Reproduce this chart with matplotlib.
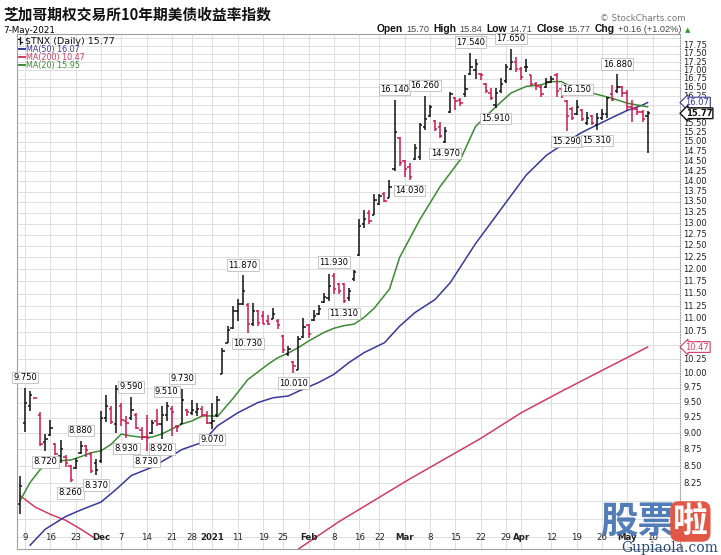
import matplotlib.pyplot as plt
import numpy as np
import pandas as pd
from matplotlib.lines import Line2D

W, H = 721, 555

# trading days on the chart (one empty week is kept at the right)
holidays = ['2020-11-26', '2020-12-25', '2021-01-01', '2021-01-18', '2021-02-15', '2021-04-02']
days = pd.bdate_range('2020-11-06', '2021-05-14')
days = days[~days.isin(pd.to_datetime(holidays))]

# $TNX daily OHLC, 6 Nov 2020 - 7 May 2021
opens = [7.95, 9.17, 9.45, 9.57, 9.30, 8.86, 8.98, 8.83, 8.65, 8.64, 8.50, 8.47, 8.70, 8.80, 8.68, 8.55,
         8.58, 9.25, 9.40, 9.15, 9.45, 9.20, 9.25, 9.30, 9.05, 8.95, 9.00, 9.20, 9.15, 9.30, 9.40, 9.12,
         9.15, 9.38, 9.32, 9.35, 9.40, 9.30, 9.17, 9.30, 9.98, 10.55, 10.82, 11.15, 11.30, 11.28, 10.90,
         11.15, 11.05, 10.95, 11.00, 10.95, 10.68, 10.35, 10.20, 10.06, 10.65, 10.88, 10.98, 11.10, 11.33,
         11.40, 11.85, 11.70, 11.70, 11.40, 11.80, 12.30, 13.00, 13.25, 13.20, 13.45, 13.70, 13.60, 14.30,
         15.10, 14.50, 14.35, 14.55, 14.60, 15.40, 15.70, 15.55, 15.40, 15.00, 15.80, 16.20, 16.15, 16.30,
         16.90, 17.00, 16.90, 16.60, 16.35, 16.00, 16.40, 16.70, 17.05, 17.25, 17.05, 17.10, 16.85, 16.60,
         16.50, 16.50, 16.65, 16.85, 16.45, 16.10, 15.90, 15.75, 15.85, 15.50, 15.70, 15.45, 15.65, 15.75,
         16.30, 16.40, 16.50, 16.35, 15.95, 15.90, 15.80, 15.70]
highs = [8.35, 9.75, 9.69, 9.57, 9.34, 8.99, 9.22, 8.85, 8.90, 8.66, 8.52, 8.62, 8.88, 8.82, 8.71, 8.61,
         9.36, 9.62, 9.44, 9.80, 9.50, 9.28, 9.59, 9.33, 9.10, 9.30, 9.22, 9.40, 9.44, 9.51, 9.44, 9.14,
         9.73, 9.39, 9.55, 9.50, 9.44, 9.36, 9.50, 9.61, 10.45, 10.86, 11.25, 11.38, 11.87, 11.31, 11.31,
         11.18, 11.15, 11.08, 11.22, 10.99, 10.70, 10.49, 10.22, 10.67, 11.02, 10.90, 11.18, 11.28, 11.51,
         11.90, 11.93, 11.72, 11.72, 11.62, 11.99, 13.10, 13.32, 13.32, 13.70, 13.70, 13.74, 14.04, 16.14,
         15.14, 14.54, 14.45, 14.95, 15.50, 16.26, 16.00, 15.59, 15.54, 15.40, 16.38, 16.24, 16.20, 16.86,
         17.54, 17.35, 16.92, 16.62, 16.48, 16.48, 16.77, 17.20, 17.65, 17.40, 17.10, 17.35, 16.86, 16.67,
         16.58, 16.77, 16.82, 16.91, 16.48, 16.14, 15.95, 16.15, 15.88, 15.81, 15.72, 15.77, 15.90, 16.24,
         16.58, 16.88, 16.53, 16.43, 16.14, 15.95, 15.86, 15.84]
lows = [7.81, 9.02, 9.36, 9.57, 8.80, 8.72, 8.96, 8.66, 8.55, 8.49, 8.26, 8.45, 8.68, 8.63, 8.40, 8.37,
        8.55, 9.18, 9.15, 9.00, 9.12, 8.93, 9.22, 9.07, 8.90, 8.73, 8.99, 9.12, 8.92, 9.20, 8.96, 9.02,
        9.15, 9.28, 9.30, 9.28, 9.26, 9.15, 9.07, 9.26, 9.98, 10.55, 10.80, 10.96, 11.28, 10.73, 10.87,
        10.87, 10.90, 10.88, 10.99, 10.80, 10.37, 10.31, 10.01, 10.06, 10.64, 10.64, 10.96, 11.08, 11.31,
        11.35, 11.48, 11.48, 11.31, 11.35, 11.75, 12.28, 12.90, 12.98, 13.20, 13.42, 13.50, 13.60, 14.25,
        14.37, 14.10, 14.03, 14.54, 14.54, 15.32, 15.67, 15.28, 15.10, 14.97, 15.77, 15.86, 15.98, 16.24,
        16.85, 16.76, 16.72, 16.34, 16.15, 15.91, 16.34, 16.62, 17.00, 16.95, 16.72, 16.95, 16.53, 16.43,
        16.24, 16.48, 16.62, 16.24, 16.20, 15.29, 15.59, 15.72, 15.55, 15.45, 15.45, 15.31, 15.59, 15.63,
        16.10, 16.34, 16.24, 15.86, 15.54, 15.72, 15.54, 14.71]
closes = [8.21, 9.50, 9.62, 9.57, 8.84, 8.92, 9.08, 8.68, 8.75, 8.55, 8.30, 8.57, 8.80, 8.74, 8.43, 8.44,
          9.25, 9.45, 9.18, 9.72, 9.22, 9.17, 9.37, 9.08, 8.95, 8.93, 9.17, 9.15, 9.30, 9.45, 9.35, 9.10,
          9.55, 9.35, 9.38, 9.40, 9.30, 9.17, 9.20, 9.55, 10.40, 10.78, 11.15, 11.30, 11.55, 10.90, 11.15,
          10.92, 10.91, 10.90, 11.10, 10.88, 10.42, 10.44, 10.12, 10.62, 10.85, 10.72, 11.05, 11.20, 11.42,
          11.65, 11.60, 11.55, 11.35, 11.55, 11.95, 12.95, 13.10, 13.05, 13.55, 13.65, 13.52, 13.85, 15.25,
          14.45, 14.30, 14.10, 14.85, 15.45, 15.60, 15.95, 15.35, 15.15, 15.30, 16.30, 16.10, 16.05, 16.45,
          17.10, 17.20, 16.85, 16.40, 16.20, 16.35, 16.60, 17.10, 17.25, 17.05, 16.80, 17.10, 16.60, 16.55,
          16.30, 16.65, 16.75, 16.40, 16.30, 15.70, 15.65, 15.95, 15.60, 15.65, 15.50, 15.65, 15.75, 16.20,
          16.15, 16.50, 16.35, 15.95, 15.90, 15.80, 15.61, 15.77]

# moving averages (bar index, value); NaN = line leaves the panel
ma20_idx = [0, 2, 4, 6, 8, 10, 12, 14, 16, 18, 20, 22, 24, 26, 28, 30, 32, 34, 36, 38, 39, 42, 45, 49, 51,
            53, 55, 57, 60, 62, 64, 66, 68, 70, 73, 75, 79, 83, 87, 90, 94, 97, 100, 103, 105, 107, 110,
            113, 117, 120, 122, 124]
ma20_val = [8.00, 8.26, 8.45, 8.55, 8.58, 8.59, 8.64, 8.70, 8.73, 8.83, 8.99, 8.96, 8.94, 8.94, 8.99, 9.07,
            9.15, 9.20, 9.28, 9.28, 9.27, 9.56, 9.89, 10.16, 10.28, 10.36, 10.46, 10.58, 10.74, 10.82,
            10.87, 10.90, 11.03, 11.21, 11.59, 12.25, 13.09, 13.87, 14.54, 15.41, 15.95, 16.34, 16.53,
            16.58, 16.67, 16.67, 16.43, 16.34, 16.19, 16.05, 16.00, 15.95]
ma50_idx = [2, 5, 9, 12, 16, 19, 22, 26, 29, 32, 36, 39, 43, 47, 50, 53, 55, 59, 62, 65, 68, 72, 75, 78,
            82, 85, 90, 97, 100, 104, 108, 111, 114, 118, 120, 123, 124]
ma50_val = [7.40, 7.61, 7.78, 7.87, 7.98, 8.16, 8.36, 8.48, 8.61, 8.75, 8.86, 9.12, 9.33, 9.50, 9.58,
            9.61, 9.69, 9.84, 9.98, 10.19, 10.37, 10.55, 10.86, 11.12, 11.38, 11.72, 12.55, 13.65,
            14.15, 14.65, 15.00, 15.25, 15.45, 15.72, 15.85, 16.00, 16.07]
ma200_idx = [0, 3, 6, 9, 12, 15, 16, 54, 55, 63, 77, 91, 99, 107, 115, 124]
ma200_val = [8.07, 7.91, 7.81, 7.73, 7.61, 7.48, np.nan, np.nan, 7.35, 7.71, 8.31, 8.92, 9.33, 9.69,
             10.05, 10.47]

# extremes that carry a value label
high_marks = [1, 12, 22, 29, 32, 44, 62, 74, 80, 89, 97, 110, 118]
low_marks = [5, 10, 15, 21, 25, 28, 38, 45, 54, 64, 77, 84, 94, 108, 114]

y_ticks = np.arange(8.25, 17.76, 0.25)
y_grid = np.arange(7.5, 18.01, 0.25)

tick_dates = ['2020-11-09', '2020-11-16', '2020-11-23', '2020-12-01', '2020-12-07', '2020-12-14',
              '2020-12-21', '2020-12-28', '2021-01-04', '2021-01-11', '2021-01-19', '2021-01-25',
              '2021-02-01', '2021-02-08', '2021-02-16', '2021-02-22', '2021-03-01', '2021-03-08',
              '2021-03-15', '2021-03-22', '2021-03-29', '2021-04-01', '2021-04-12', '2021-04-19',
              '2021-04-26', '2021-05-03', '2021-05-10']
tick_text = ['9', '16', '23', 'Dec', '7', '14', '21', '28', '2021', '11', '19', '25', 'Feb', '8', '16',
             '22', 'Mar', '8', '15', '22', '29', 'Apr', '12', '19', '26', 'May', '10']
bold_ticks = {'Dec', '2021', 'Feb', 'Mar', 'Apr', 'May'}

UP, DOWN = '#111111', '#d0174f'
C20, C50, C200 = '#3d8a35', '#38389a', '#d23c64'

fig = plt.figure(figsize=(W / 100, H / 100), dpi=100)
L, R, T, B = 17, 680, 34, 549
ax = fig.add_axes([L / W, 1 - B / H, (R - L) / W, (B - T) / H])

x = np.arange(len(closes))
o, h, l, c = map(np.array, (opens, highs, lows, closes))
prev = np.r_[c[0] - 1, c[:-1]]
cols = np.where(c >= prev, UP, DOWN)

ax.set_yscale('log')
ax.set_ylim(7.35, 18.12)
ax.set_xlim(-0.6, 130.4)

# grid
ax.set_yticks(y_grid, minor=False)
ax.set_yticklabels([])
ax.yaxis.set_minor_locator(plt.NullLocator())
tick_pos = [days.get_loc(pd.Timestamp(d)) for d in tick_dates]
ax.set_xticks(tick_pos)
ax.set_xticklabels([])
ax.tick_params(length=0)
ax.grid(True, color='#dedede', lw=0.7)
ax.set_axisbelow(True)

for s in ['left', 'top', 'bottom']:
    ax.spines[s].set_color('#a0a0a0')
    ax.spines[s].set_linewidth(0.8)
ax.spines['right'].set_linestyle((0, (1, 1.5)))
ax.spines['right'].set_color('#a0a0a0')

# moving averages
ax.plot(ma200_idx, ma200_val, color=C200, lw=1.1, zorder=2)
ax.plot(ma50_idx, ma50_val, color=C50, lw=1.1, zorder=2)
ax.plot(ma20_idx, ma20_val, color=C20, lw=1.1, zorder=2)

# OHLC bars
ax.vlines(x, l, h, colors=cols, lw=1.1, zorder=3)
ax.hlines(o, x - 0.45, x, colors=cols, lw=1.1, zorder=3)
ax.hlines(c, x, x + 0.45, colors=cols, lw=1.1, zorder=3)

box = dict(boxstyle='square,pad=0.15', fc='white', ec='#b0b0b0', lw=0.5)
for i in high_marks:
    ax.annotate(f'{h[i]:.3f}', (i, h[i]), xytext=(0, 7.5), textcoords='offset points',
                ha='center', va='center', fontsize=6, bbox=box, zorder=5)
for i in low_marks:
    ax.annotate(f'{l[i]:.3f}', (i, l[i]), xytext=(0, -7.5), textcoords='offset points',
                ha='center', va='center', fontsize=6, bbox=box, zorder=5)

# y labels on the right
for v in y_ticks:
    ax.text(1.005, v, f'{v:.2f}', transform=ax.get_yaxis_transform(), fontsize=6,
            va='center', ha='left', color='#222222', clip_on=False)

# date labels inside the panel
for p, t in zip(tick_pos, tick_text):
    ax.text(p, 0.023, t, transform=ax.get_xaxis_transform(), fontsize=6.2, ha='center', va='center',
            fontweight='bold' if t in bold_ticks else 'normal', color='#222222')

# last-value tags
for val, ec, lw, wt in [(16.07, C50, 0.8, 'normal'), (10.47, C200, 0.8, 'normal'),
                        (15.77, '#111111', 1.0, 'bold')]:
    ax.annotate(f'{val:.2f}', (1.0, val), xycoords=('axes fraction', 'data'), xytext=(4, 0),
                textcoords='offset points', ha='left', va='center', fontsize=6, fontweight=wt,
                color=ec if wt == 'normal' else '#111111',
                bbox=dict(boxstyle='larrow,pad=0.1', fc='white', ec=ec, lw=lw),
                zorder=10, annotation_clip=False)

# header
fig.text(3 / W, 1 - 20 / H, '芝加哥期权交易所10年期美债收益率指数', fontsize=10.6, fontweight='bold',
         family=['Noto Sans CJK SC', 'DejaVu Sans'], va='baseline', color='#111111')
fig.text(3 / W, 1 - 33 / H, '7-May-2021', fontsize=6.3, va='baseline', family='DejaVu Sans')
fig.text(686 / W, 1 - 21 / H, '© StockCharts.com', fontsize=6.3, ha='right', va='baseline',
         color='#777777', family='DejaVu Sans')

renderer = fig.canvas.get_renderer()
pieces = [('Open', True), ('15.70', False), ('High', True), ('15.84', False), ('Low', True),
          ('14.71', False), ('Close', True), ('15.77', False), ('Chg', True), ('+0.16 (+1.02%)', False)]
px = 377
for txt, bold in pieces:
    t = fig.text(px / W, 1 - 32 / H, txt, fontsize=7.4 if bold else 6.6,
                 fontweight='bold' if bold else 'normal', color='#111111' if bold else '#444444',
                 va='baseline', family='Liberation Sans')
    px += t.get_window_extent(renderer).width + (3 if bold else 4)
fig.text(px / W, 1 - 32 / H, '▲', fontsize=5, color='#2a9a2a', va='baseline', family='DejaVu Sans')

# legend block
fig.add_artist(Line2D([20 / W, 20 / W], [1 - 37 / H, 1 - 44 / H], color='#111111', lw=0.9))
fig.add_artist(Line2D([18 / W, 20 / W], [1 - 39 / H, 1 - 39 / H], color='#111111', lw=0.9))
fig.add_artist(Line2D([20 / W, 22 / W], [1 - 42 / H, 1 - 42 / H], color='#111111', lw=0.9))
fig.text(25 / W, 1 - 44 / H, '$TNX (Daily) 15.77', fontsize=6.8, va='baseline', family='DejaVu Sans',
         color='#111111')
for yy, txt, col in [(52, 'MA(50) 16.07', C50), (60, 'MA(200) 10.47', C200), (68, 'MA(20) 15.95', C20)]:
    fig.add_artist(Line2D([19 / W, 25 / W], [1 - (yy - 3) / H, 1 - (yy - 3) / H], color=col, lw=1.4))
    fig.text(26 / W, 1 - yy / H, txt, fontsize=5.8, va='baseline', family='DejaVu Sans', color=col)

# site watermark
fig.text(600 / W, 1 - 533 / H, '股票', fontsize=27, fontweight='bold', color='#3f6fb0', alpha=0.9,
         va='baseline', family=['Noto Sans CJK SC'])
fig.text(673 / W, 1 - 532 / H, '啦', fontsize=25, fontweight='bold', color='white', va='baseline',
         family=['Noto Sans CJK SC'],
         bbox=dict(boxstyle='round,pad=0.08,rounding_size=0.25', fc='#e0503c', ec='none', alpha=0.95))
fig.text(718 / W, 1 - 552 / H, 'Gupiaola.com', fontsize=10, ha='right', va='baseline',
         color='#2a4a7a', family='DejaVu Serif')

fig.savefig('out.png', dpi=100)
